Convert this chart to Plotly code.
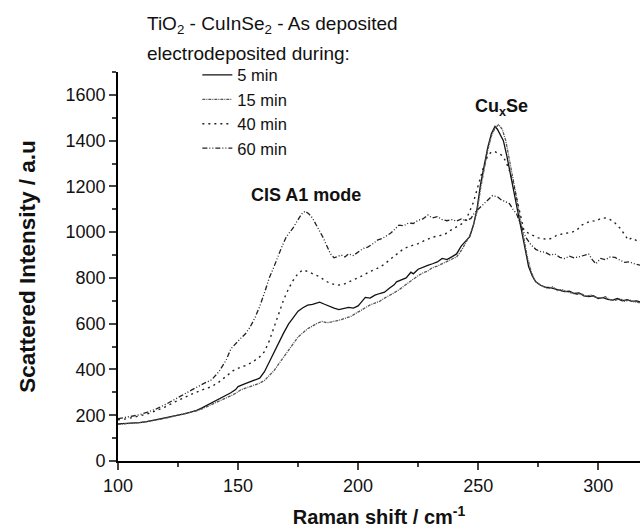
import plotly.graph_objects as go

# ---------------- data ----------------
x_5 = [100, 103, 106, 109, 112, 115, 118, 121, 124, 127, 130, 133, 135, 137, 139, 141, 143, 145, 147, 149,
       150, 153, 156, 159, 161, 163, 165, 167, 169, 171, 173, 175, 177, 179, 181, 183, 184, 186, 188, 190,
       192, 194, 196, 198, 200, 201, 203, 205, 207, 209, 211, 213, 215, 216, 218, 220, 222, 223, 225, 227,
       229, 231, 233, 235, 237, 239, 241, 243, 245, 246.5, 248, 249.5, 251, 252.5, 254, 255.5, 257, 258,
       259, 260.5, 262, 263.5, 265, 266.5, 268, 269.5, 271, 272.5, 274, 276, 278, 280, 282, 284, 286, 288,
       290, 292, 294, 296, 298, 300, 302, 304, 306, 308, 310, 312, 314, 316, 317.4]
y_5 = [162, 163, 166, 168, 172, 178, 185, 190, 198, 205, 213, 222, 232, 243, 252, 262, 275, 287, 298, 312,
       325, 338, 350, 362, 390, 433, 470, 520, 560, 598, 628, 655, 670, 681, 684, 690, 694, 685, 675, 668,
       662, 665, 671, 668, 678, 690, 715, 712, 725, 732, 738, 755, 770, 783, 790, 800, 825, 818, 838, 848,
       855, 862, 870, 885, 880, 892, 905, 940, 965, 980, 1030, 1100, 1210, 1290, 1370, 1430, 1462, 1450,
       1432, 1400, 1330, 1250, 1170, 1080, 1000, 920, 850, 810, 783, 768, 760, 758, 752, 748, 740, 742,
       732, 735, 722, 718, 722, 710, 714, 706, 703, 710, 700, 705, 698, 700, 695]

x_15 = [100, 103, 106, 109, 112, 115, 118, 121, 124, 127, 130, 133, 135, 137, 139, 141, 143, 145, 147, 149,
        151, 153, 155, 157, 159, 161, 163, 165, 167, 169, 171, 173, 175, 177, 179, 181, 183, 185, 187, 189,
        191, 193, 195, 197, 199, 201, 203, 205, 207, 209, 211, 213, 215, 217, 219, 221, 223, 225, 227, 229,
        231, 233, 235, 237, 239, 241, 243, 245, 246.5, 248, 249.5, 251, 252.5, 254, 255.5, 257, 258.5, 260,
        261.5, 263, 264.5, 266, 267.5, 269, 270.5, 272, 273.5, 275, 277, 279, 281, 283, 285, 287, 289, 291,
        293, 295, 297, 299, 301, 303, 305, 307, 309, 311, 313, 315, 317.4]
y_15 = [160, 162, 165, 168, 172, 176, 183, 190, 197, 204, 212, 220, 228, 237, 246, 255, 265, 276, 285, 296,
        310, 318, 325, 332, 340, 352, 372, 395, 425, 455, 484, 515, 542, 560, 578, 590, 602, 610, 604, 608,
        612, 618, 625, 632, 645, 658, 668, 682, 690, 698, 712, 722, 735, 748, 765, 778, 795, 810, 822, 830,
        845, 852, 862, 870, 880, 892, 920, 955, 985, 1030, 1090, 1190, 1280, 1360, 1420, 1455, 1470, 1450,
        1400, 1320, 1240, 1150, 1060, 970, 890, 830, 790, 775, 765, 752, 762, 745, 750, 738, 735, 728,
        730, 720, 725, 715, 712, 718, 705, 702, 710, 698, 704, 695, 692]

x_40 = [100, 104, 108, 112, 116, 120, 124, 128, 132, 136, 139, 142, 145, 148, 151, 154, 157, 159, 161, 163,
        165, 167, 169, 171, 173, 175, 177, 179, 181, 184, 186, 188, 190, 192, 194, 196, 198, 200, 202, 205,
        208, 211, 213, 215, 217, 219, 222, 225, 228, 231, 234, 236, 238, 241, 243, 245, 246.5, 248, 249.5,
        251, 252.5, 254, 255.5, 257, 258.5, 260, 261.5, 263, 264.5, 266, 267.5, 269, 271, 273, 275, 277, 279,
        281, 283, 285, 287, 289, 291, 293, 295, 297, 299, 301, 303, 305, 307, 309, 311, 312.5, 314, 316, 317.4]
y_40 = [180, 185, 195, 205, 220, 238, 260, 280, 298, 315, 325, 345, 370, 395, 410, 420, 440, 455, 478, 525,
        585, 645, 705, 752, 790, 820, 835, 828, 820, 805, 790, 778, 772, 769, 772, 783, 792, 800, 812, 828,
        842, 860, 878, 895, 912, 928, 940, 950, 965, 978, 985, 990, 1005, 1022, 1035, 1055, 1090, 1130, 1185,
        1240, 1295, 1335, 1350, 1352, 1345, 1335, 1310, 1270, 1220, 1150, 1070, 1010, 995, 985, 975, 972, 968,
        975, 988, 992, 995, 1000, 1008, 1030, 1040, 1050, 1048, 1060, 1062, 1055, 1040, 1018, 990, 965, 975, 965, 955]

x_60 = [100, 104, 108, 112, 116, 120, 124, 128, 132, 136, 139, 142, 145, 147, 149, 151, 153, 155, 157, 159,
        161, 163, 165, 166, 168, 170, 172, 173, 175, 176.5, 178, 179.5, 181, 182.5, 184, 185.5, 187, 188.5,
        190, 191.5, 193, 194.5, 196, 198, 200, 202, 204, 206, 208, 210, 212, 213.5, 215, 217, 219, 221, 223,
        225, 227, 229, 231, 233, 235, 237, 239, 241, 243, 245, 247, 248.5, 250, 252, 254, 256, 258, 259.5,
        261, 263, 264.5, 266, 268, 270, 272, 274, 276, 278, 280, 282, 284, 286, 288, 290, 292, 294, 296,
        297.5, 299, 301, 303, 305, 307, 309, 311, 313, 315, 317.4]
y_60 = [185, 192, 200, 212, 228, 248, 272, 295, 318, 340, 355, 390, 440, 490, 515, 535, 555, 585, 625, 675,
        735, 800, 850, 878, 930, 978, 1005, 1020, 1055, 1080, 1092, 1080, 1062, 1035, 1008, 975, 940, 905,
        888, 895, 900, 892, 905, 898, 915, 928, 935, 948, 965, 972, 985, 995, 1010, 1031, 1028, 1040, 1038,
        1052, 1058, 1075, 1062, 1068, 1055, 1050, 1055, 1048, 1058, 1050, 1060, 1085, 1100, 1120, 1140, 1160, 1155, 1142,
        1135, 1125, 1100, 1080, 1024, 975, 945, 925, 915, 912, 900, 905, 890, 885, 895, 888, 892, 898, 905,
        880, 862, 885, 880, 892, 890, 878, 868, 870, 862, 856]

series_names = ["5 min", "15 min", "40 min", "60 min"]

x_ticks = [100, 150, 200, 250, 300]
y_ticks = [0, 200, 400, 600, 800, 1000, 1200, 1400, 1600]

FONT = "Liberation Sans, Arial, sans-serif"

fig = go.Figure()
styles = [
    dict(color="#111111", width=1.3, dash="solid"),
    dict(color="#555555", width=1.3, dash="3px,1px,1px,1px"),
    dict(color="#222222", width=1.4, dash="2px,4px"),
    dict(color="#222222", width=1.3, dash="5px,2px,1px,2px,1px,2px"),
]
for xs, ys, name, st in zip([x_5, x_15, x_40, x_60], [y_5, y_15, y_40, y_60], series_names, styles):
    fig.add_trace(go.Scatter(x=xs, y=ys, mode="lines", name=name, line=st))

fig.update_layout(
    width=640, height=528,
    margin=dict(l=118, r=0, t=72, b=67),
    paper_bgcolor="white", plot_bgcolor="white",
    font=dict(family=FONT, size=18, color="#111111"),
    showlegend=True,
    legend=dict(x=0.152, y=1.037, xanchor="left", yanchor="top",
                bgcolor="rgba(0,0,0,0)", font=dict(size=16.5, family=FONT),
                tracegroupgap=0, itemwidth=30),
)
fig.update_xaxes(
    range=[100, 317.4], tickvals=x_ticks, ticks="outside", ticklen=7, tickwidth=1.5,
    showline=True, linecolor="black", linewidth=1.8, showgrid=False, zeroline=False,
    tickfont=dict(size=18), mirror=False,
    minor=dict(dtick=25, tick0=100, ticks="outside", ticklen=4, tickwidth=1.5, showgrid=False),
    title=dict(text="<b>Raman shift / cm<sup>-1</sup></b>", font=dict(size=20), standoff=16),
)
fig.update_yaxes(
    range=[0, 1700], tickvals=y_ticks, ticks="outside", ticklen=7, tickwidth=1.5,
    showline=True, linecolor="black", linewidth=1.8, showgrid=False, zeroline=False,
    tickfont=dict(size=18),
    minor=dict(dtick=100, tick0=0, ticks="outside", ticklen=4, tickwidth=1.5, showgrid=False),
    title=dict(text="<b>Scattered Intensity / a.u</b>", font=dict(size=22.5), standoff=24),
)

fig.add_annotation(text="TiO<sub>2</sub> - CuInSe<sub>2</sub> - As deposited", xref="paper", yref="paper",
                   x=0.051, y=1.12, xanchor="left", yanchor="middle", showarrow=False,
                   font=dict(size=19, family=FONT))
fig.add_annotation(text="electrodeposited during:", xref="paper", yref="paper",
                   x=0.051, y=1.048, xanchor="left", yanchor="middle", showarrow=False,
                   font=dict(size=19, family=FONT))
fig.add_annotation(text="<b>CIS A1 mode</b>", x=178.2, y=1162, showarrow=False,
                   xanchor="center", yanchor="middle", font=dict(size=18, family=FONT))
fig.add_annotation(text="<b>Cu<sub>x</sub>Se</b>", x=247.9, y=1545, showarrow=False,
                   xanchor="left", yanchor="middle", font=dict(size=18, family=FONT))

fig.write_html("out.html")
